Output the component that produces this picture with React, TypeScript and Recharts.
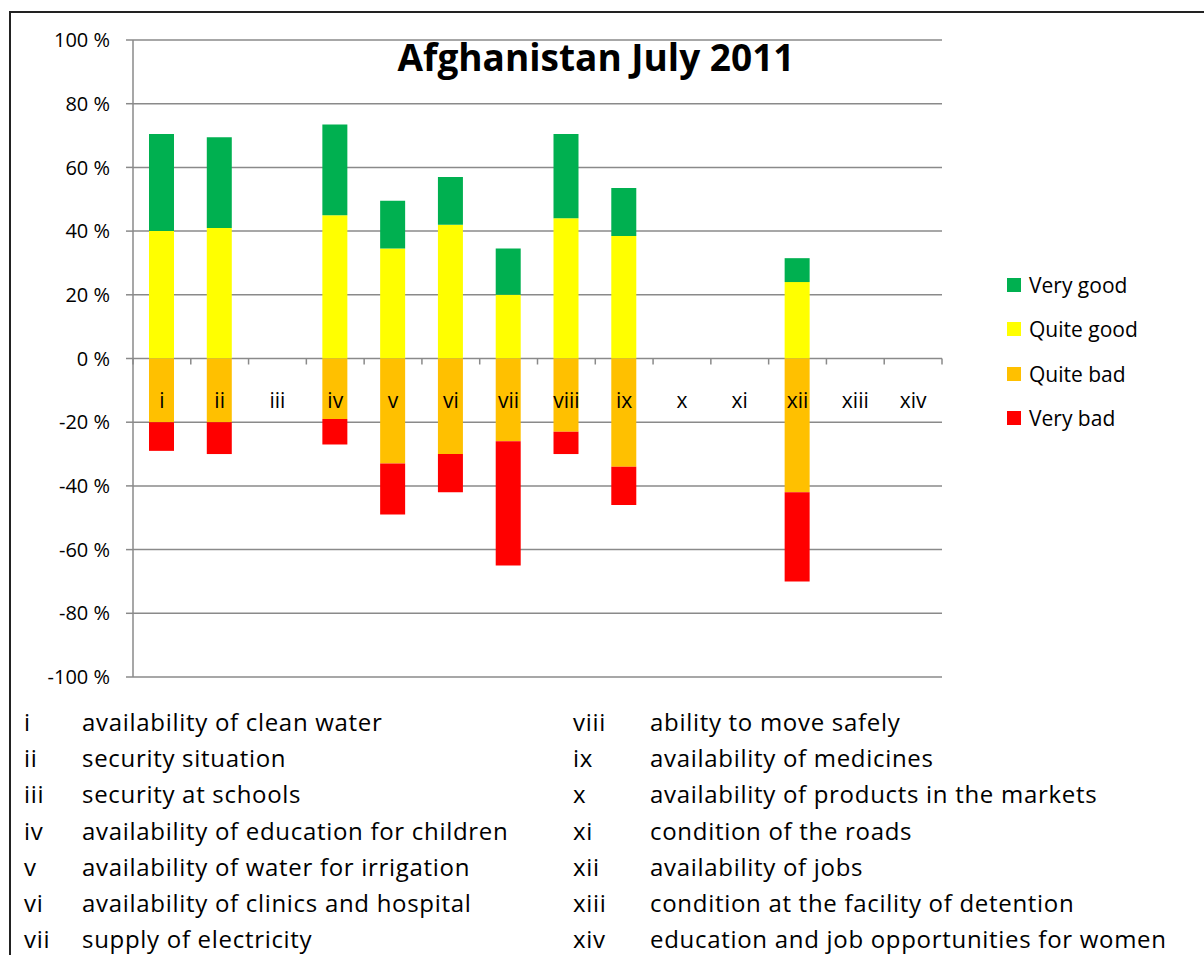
import { BarChart, Bar, XAxis, YAxis, CartesianGrid, Legend } from 'recharts';

const categories = ['i', 'ii', 'iii', 'iv', 'v', 'vi', 'vii', 'viii', 'ix', 'x', 'xi', 'xii', 'xiii', 'xiv'];
const veryGood = [30.5, 28.5, 0, 28.5, 15, 15, 14.5, 26.5, 15, 0, 0, 7.5, 0, 0];
const quiteGood = [40, 41, 0, 45, 34.5, 42, 20, 44, 38.5, 0, 0, 24, 0, 0];
const quiteBad = [-20, -20, 0, -19, -33, -30, -26, -23, -34, 0, 0, -42, 0, 0];
const veryBad = [-9, -10, 0, -8, -16, -12, -39, -7, -12, 0, 0, -28, 0, 0];
const yTicks = [-100, -80, -60, -40, -20, 0, 20, 40, 60, 80, 100];

const descriptions = [
  'availability of clean water',
  'security situation',
  'security at schools',
  'availability of education for children',
  'availability of water for irrigation',
  'availability of clinics and hospital',
  'supply of electricity',
  'ability to move safely',
  'availability of medicines',
  'availability of products in the markets',
  'condition of the roads',
  'availability of jobs',
  'condition at the facility of detention',
  'education and job opportunities for women',
];

const seriesInfo = [
  { key: 'veryGood', name: 'Very good', color: '#00B050' },
  { key: 'quiteGood', name: 'Quite good', color: '#FFFF00' },
  { key: 'quiteBad', name: 'Quite bad', color: '#FFC000' },
  { key: 'veryBad', name: 'Very bad', color: '#FF0000' },
];

const data = categories.map((c, i) => ({
  cat: c,
  veryGood: veryGood[i],
  quiteGood: quiteGood[i],
  quiteBad: quiteBad[i],
  veryBad: veryBad[i],
}));

const FONT = '"Open Sans", Lato, sans-serif';
const CHART_W = 1188;
const CHART_H = 700;
const PLOT_W = 809;
const PLOT_H = 637;
const BAND = PLOT_W / categories.length;
const GRID = '#8a8a8a';

const CategoryTick = (props: any) => {
  const { x, y, payload, index } = props;
  const zeroY = y - PLOT_H / 2;
  return (
    <g>
      {index === 0 && (
        <line x1={x - BAND / 2} x2={x - BAND / 2} y1={zeroY} y2={zeroY + 6} stroke={GRID} strokeWidth={1.5} />
      )}
      <line x1={x + BAND / 2} x2={x + BAND / 2} y1={zeroY} y2={zeroY + 6} stroke={GRID} strokeWidth={1.5} />
      <text x={x} y={zeroY + 49} textAnchor="middle" fontSize={21} fill="#000" fontFamily={FONT}>
        {payload.value}
      </text>
    </g>
  );
};

const LegendBox = () => (
  <div style={{ fontFamily: FONT, fontSize: 21, color: '#000' }}>
    {seriesInfo.map((s) => (
      <div key={s.key} style={{ display: 'flex', alignItems: 'center', height: 44.3 }}>
        <span style={{ display: 'inline-block', width: 14, height: 14, background: s.color, marginRight: 8 }} />
        <span>{s.name}</span>
      </div>
    ))}
  </div>
);

export default function App() {
  return (
    <>
      <style>{'html,body{margin:0;padding:0;overflow:hidden;background:#fff}'}</style>
      <div
        style={{
          position: 'relative',
          width: 1196,
          height: 947,
          margin: '8px 0 0 8px',
          fontFamily: FONT,
          background: '#fff',
        }}
      >
        <div
          style={{
            position: 'absolute',
            left: 1,
            top: 3,
            right: 0,
            bottom: 0,
            borderTop: '2px solid #222',
            borderLeft: '2px solid #222',
          }}
        />
        <BarChart
          width={CHART_W}
          height={CHART_H}
          data={data}
          stackOffset="sign"
          barSize={25}
          margin={{ top: 32, right: CHART_W - 125 - PLOT_W, bottom: CHART_H - 32 - PLOT_H - 20, left: 25 }}
        >
          <CartesianGrid vertical={false} stroke={GRID} strokeWidth={1.5} />
          <YAxis
            width={100}
            domain={[-100, 100]}
            ticks={yTicks}
            tickFormatter={(v) => `${v} %`}
            tickSize={7}
            tickMargin={16}
            stroke={GRID}
            strokeWidth={1.5}
            tick={{ fontSize: 20, fill: '#000', fontFamily: FONT }}
            interval={0}
          />
          <Bar dataKey="quiteGood" name="Quite good" stackId="a" fill="#FFFF00" isAnimationActive={false} />
          <Bar dataKey="veryGood" name="Very good" stackId="a" fill="#00B050" isAnimationActive={false} />
          <Bar dataKey="quiteBad" name="Quite bad" stackId="a" fill="#FFC000" isAnimationActive={false} />
          <Bar dataKey="veryBad" name="Very bad" stackId="a" fill="#FF0000" isAnimationActive={false} />
          <XAxis
            dataKey="cat"
            height={20}
            axisLine={false}
            tickLine={false}
            tickSize={0}
            tickMargin={0}
            interval={0}
            tick={<CategoryTick />}
          />
          <Legend
            layout="vertical"
            align="center"
            verticalAlign="middle"
            wrapperStyle={{ left: 999, top: 255, width: 'auto' }}
            content={<LegendBox />}
          />
        </BarChart>
        <div
          style={{
            position: 'absolute',
            left: 338,
            width: 500,
            top: 32,
            textAlign: 'center',
            fontSize: 37,
            fontWeight: 700,
            lineHeight: '34px',
            color: '#000',
            whiteSpace: 'nowrap',
          }}
        >
          Afghanistan July 2011
        </div>
        {descriptions.map((d, i) => {
          const col = i < 7 ? 0 : 1;
          const row = i % 7;
          return (
            <div
              key={categories[i]}
              style={{
                position: 'absolute',
                top: 699 + row * 36.2,
                left: col === 0 ? 16 : 565,
                fontSize: 24,
                letterSpacing: 0.7,
                lineHeight: '30px',
                color: '#000',
                whiteSpace: 'nowrap',
              }}
            >
              <span style={{ display: 'inline-block', width: col === 0 ? 58 : 77 }}>{categories[i]}</span>
              <span>{d}</span>
            </div>
          );
        })}
      </div>
    </>
  );
}
